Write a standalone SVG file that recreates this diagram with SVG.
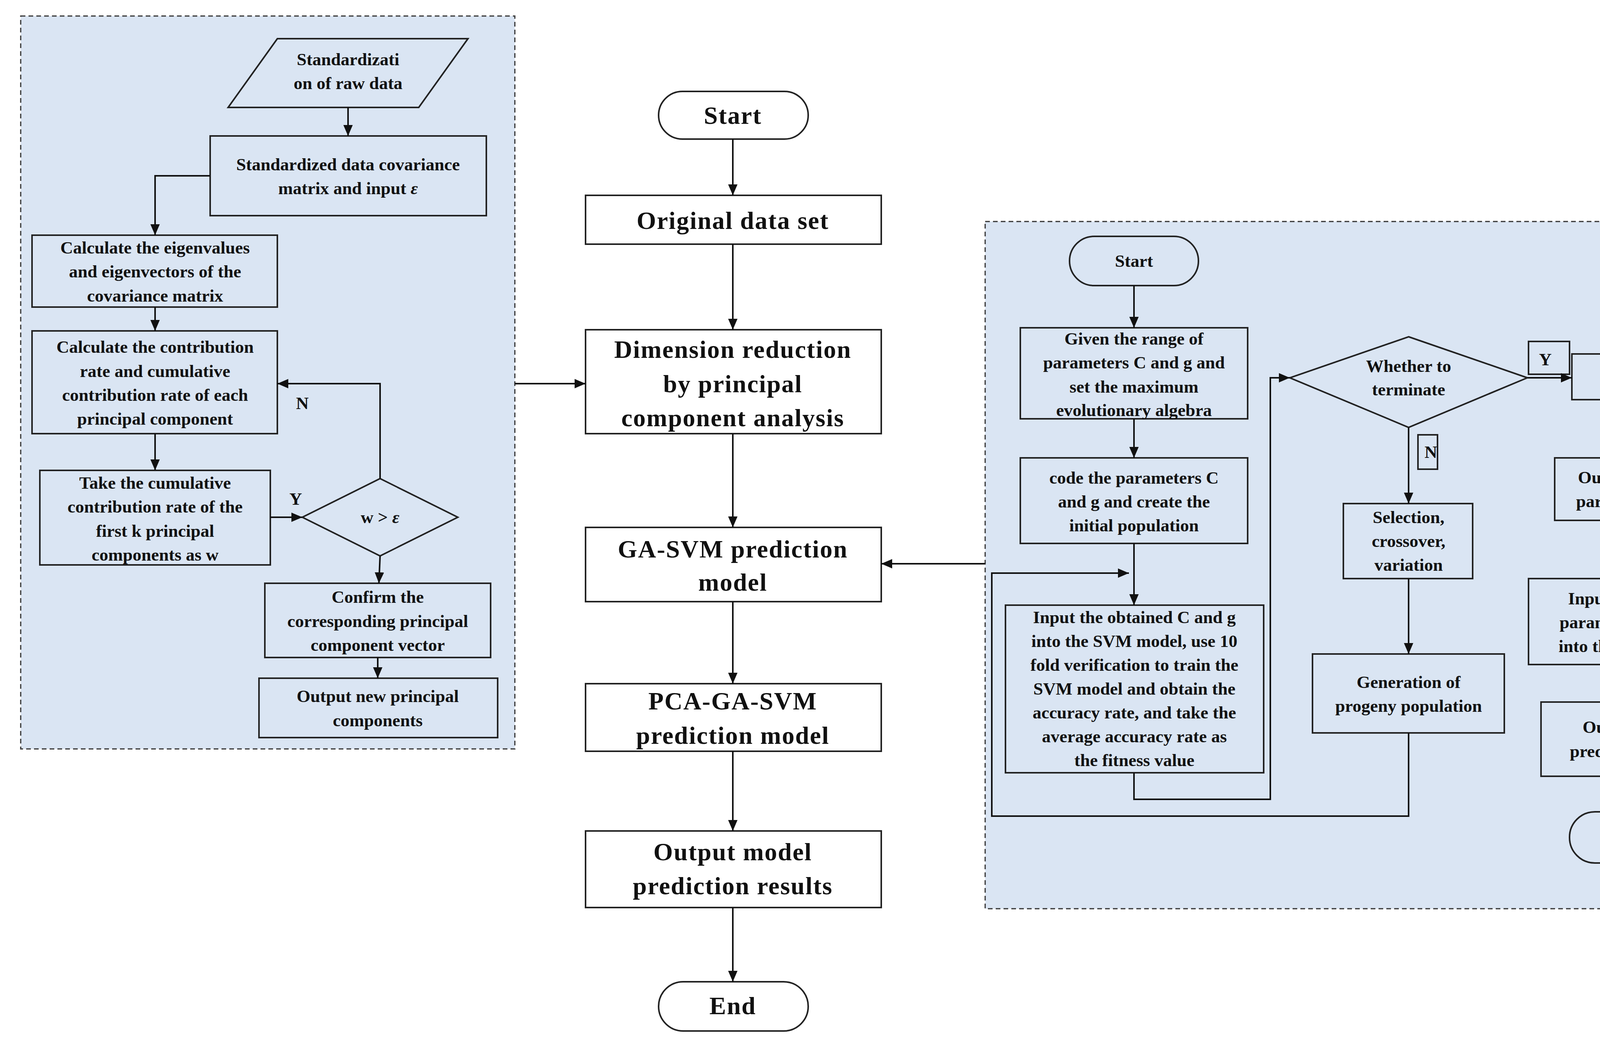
<svg xmlns="http://www.w3.org/2000/svg" width="4582" height="2680" viewBox="0 0 4582 2680">
<style>
.panel{fill:#dae5f3;stroke:#333;stroke-width:3;stroke-dasharray:12 8}
.b{fill:#dae5f3;stroke:#222;stroke-width:4}
.m{fill:#fff;stroke:#222;stroke-width:4}
.c{fill:none;stroke:#111;stroke-width:4}
.t{font-family:"Liberation Serif",serif;font-weight:bold;font-size:45px;fill:#111;text-anchor:middle;dominant-baseline:central}
.tb{font-family:"Liberation Serif",serif;font-weight:bold;font-size:64px;fill:#111;text-anchor:middle;dominant-baseline:central;letter-spacing:2px}
</style>
<defs><marker id="a" markerWidth="8" markerHeight="8" refX="7" refY="4" orient="auto" markerUnits="strokeWidth"><path d="M0,1 L7,4 L0,7 z" fill="#111"/></marker></defs>
<rect x="0" y="0" width="4582" height="2680" fill="#fff"/>
<rect class="panel" x="53" y="41" width="1265" height="1876"/>
<rect class="panel" x="2522" y="567" width="2010" height="1759"/>
<g id="l1"><polygon class="b" points="710,99 1198,99 1072,275 584,275"/><text class="t" x="891" y="152">Standardizati</text><text class="t" x="891" y="213">on of raw data</text></g>
<g id="l2"><rect class="b" x="538" y="348" width="707" height="204"/><text class="t" x="891" y="421">Standardized data covariance</text><text class="t" x="891" y="482">matrix and input <tspan font-style="italic">ε</tspan></text></g>
<g id="l3"><rect class="b" x="82" y="602" width="628" height="184"/><text class="t" x="397" y="634">Calculate the eigenvalues</text><text class="t" x="397" y="695">and eigenvectors of the</text><text class="t" x="397" y="757">covariance matrix</text></g>
<g id="l4"><rect class="b" x="82" y="847" width="628" height="263"/><text class="t" x="397" y="888">Calculate the contribution</text><text class="t" x="397" y="950">rate and cumulative</text><text class="t" x="397" y="1011">contribution rate of each</text><text class="t" x="397" y="1072">principal component</text></g>
<g id="l5"><rect class="b" x="102" y="1204" width="590" height="242"/><text class="t" x="397" y="1236">Take the cumulative</text><text class="t" x="397" y="1297">contribution rate of the</text><text class="t" x="397" y="1359">first k principal</text><text class="t" x="397" y="1420">components as w</text></g>
<g id="l6"><polygon class="b" points="973,1225 1172,1324 973,1423 774,1324"/><text class="t" x="973" y="1324">w &gt; <tspan font-style="italic">ε</tspan></text></g>
<g id="l7"><rect class="b" x="678" y="1493" width="578" height="190"/><text class="t" x="967" y="1528">Confirm the</text><text class="t" x="967" y="1590">corresponding principal</text><text class="t" x="967" y="1651">component vector</text></g>
<g id="l8"><rect class="b" x="663" y="1736" width="611" height="152"/><text class="t" x="967" y="1782">Output new principal</text><text class="t" x="967" y="1844">components</text></g>
<text class="t" x="757" y="1277">Y</text><text class="t" x="774" y="1032">N</text>

<g id="m1"><rect class="m" x="1686" y="234" width="383" height="122" rx="61"/><text class="tb" x="1876" y="295" font-size="58">Start</text></g>
<g id="m2"><rect class="m" x="1499" y="500" width="757" height="125"/><text class="tb" x="1876" y="564">Original data set</text></g>
<g id="m3"><rect class="m" x="1499" y="844" width="757" height="266"/><text class="tb" x="1876" y="894">Dimension reduction</text><text class="tb" x="1876" y="982">by principal</text><text class="tb" x="1876" y="1069">component analysis</text></g>
<g id="m4"><rect class="m" x="1499" y="1350" width="757" height="190"/><text class="tb" x="1876" y="1405">GA-SVM prediction</text><text class="tb" x="1876" y="1490">model</text></g>
<g id="m5"><rect class="m" x="1499" y="1750" width="757" height="173"/><text class="tb" x="1876" y="1794">PCA-GA-SVM</text><text class="tb" x="1876" y="1882">prediction model</text></g>
<g id="m6"><rect class="m" x="1499" y="2127" width="757" height="196"/><text class="tb" x="1876" y="2180">Output model</text><text class="tb" x="1876" y="2267">prediction results</text></g>
<g id="m7"><rect class="m" x="1686" y="2513" width="383" height="126" rx="63"/><text class="tb" x="1876" y="2574">End</text></g>

<g id="r1"><rect class="b" x="2738" y="605" width="330" height="126" rx="63"/><text class="t" x="2903" y="668">Start</text></g>
<g id="r2"><rect class="b" x="2612" y="839" width="582" height="233"/><text class="t" x="2903" y="867">Given the range of</text><text class="t" x="2903" y="928">parameters C and g and</text><text class="t" x="2903" y="990">set the maximum</text><text class="t" x="2903" y="1050">evolutionary algebra</text></g>
<g id="r3"><rect class="b" x="2612" y="1172" width="582" height="219"/><text class="t" x="2903" y="1223">code the parameters C</text><text class="t" x="2903" y="1284">and g and create the</text><text class="t" x="2903" y="1345">initial population</text></g>
<g id="r4"><rect class="b" x="2574" y="1549" width="661" height="429"/><text class="t" x="2904" y="1580">Input the obtained C and g</text><text class="t" x="2904" y="1641">into the SVM model, use 10</text><text class="t" x="2904" y="1702">fold verification to train the</text><text class="t" x="2904" y="1763">SVM model and obtain the</text><text class="t" x="2904" y="1824">accuracy rate, and take the</text><text class="t" x="2904" y="1885">average accuracy rate as</text><text class="t" x="2904" y="1946">the fitness value</text></g>
<g id="r5"><polygon class="b" points="3606,862 3910,967 3606,1094 3302,967"/><text class="t" x="3606" y="937">Whether to</text><text class="t" x="3606" y="997">terminate</text></g>
<g id="r6"><rect class="b" x="3913" y="874" width="105" height="84"/><text class="t" x="3956" y="920">Y</text></g>
<g id="r7"><rect class="b" x="3630" y="1113" width="50" height="88"/><text class="t" x="3663" y="1157">N</text></g>
<g id="r8"><rect class="b" x="4024" y="906" width="324" height="117"/><text class="t" x="4186" y="964">Decode</text></g>
<g id="r9"><rect class="b" x="3439" y="1289" width="331" height="192"/><text class="t" x="3606" y="1324">Selection,</text><text class="t" x="3606" y="1385">crossover,</text><text class="t" x="3606" y="1446">variation</text></g>
<g id="r10"><rect class="b" x="3360" y="1674" width="491" height="202"/><text class="t" x="3606" y="1746">Generation of</text><text class="t" x="3606" y="1807">progeny population</text></g>
<g id="r11"><rect class="b" x="3980" y="1172" width="418" height="160"/><text class="t" x="4189" y="1222">Output optimal</text><text class="t" x="4189" y="1283">parameters C, g</text></g>
<g id="r12"><rect class="b" x="3913" y="1481" width="540" height="220"/><text class="t" x="4183" y="1532">Input the optimal</text><text class="t" x="4183" y="1593">parameters C and g</text><text class="t" x="4183" y="1654">into the SVM model</text></g>
<g id="r13"><rect class="b" x="3945" y="1797" width="482" height="190"/><text class="t" x="4186" y="1861">Output model</text><text class="t" x="4186" y="1923">prediction results</text></g>
<g id="r14"><rect class="b" x="4018" y="2078" width="342" height="131" rx="65"/><text class="t" x="4189" y="2143">End</text></g>

<g id="connectors">
<path class="c" marker-end="url(#a)" d="M891,275 V348"/>
<path class="c" marker-end="url(#a)" d="M538,450 H397 V602"/>
<path class="c" marker-end="url(#a)" d="M397,786 V847"/>
<path class="c" marker-end="url(#a)" d="M397,1110 V1204"/>
<path class="c" marker-end="url(#a)" d="M692,1324 H774"/>
<path class="c" marker-end="url(#a)" d="M973,1225 V982 H710"/>
<path class="c" marker-end="url(#a)" d="M973,1423 L970,1493"/>
<path class="c" marker-end="url(#a)" d="M967,1683 V1736"/>
<path class="c" marker-end="url(#a)" d="M1876,356 V500"/>
<path class="c" marker-end="url(#a)" d="M1876,625 V844"/>
<path class="c" marker-end="url(#a)" d="M1876,1110 V1350"/>
<path class="c" marker-end="url(#a)" d="M1876,1540 V1750"/>
<path class="c" marker-end="url(#a)" d="M1876,1923 V2127"/>
<path class="c" marker-end="url(#a)" d="M1876,2323 V2513"/>
<path class="c" stroke-width="7" marker-end="url(#a)" d="M1318,982 H1499"/>
<path class="c" stroke-width="7" marker-end="url(#a)" d="M2522,1443 H2256"/>
<path class="c" marker-end="url(#a)" d="M2903,731 V839"/>
<path class="c" marker-end="url(#a)" d="M2903,1072 V1172"/>
<path class="c" marker-end="url(#a)" d="M2903,1391 V1549"/>
<path class="c" marker-end="url(#a)" d="M3606,1876 V2089 H2539 V1467 H2890"/>
<path class="c" marker-end="url(#a)" d="M2903,1978 V2046 H3252 V967 H3302"/>
<path class="c" marker-end="url(#a)" d="M3910,967 H4024"/>
<path class="c" marker-end="url(#a)" d="M3606,1094 V1289"/>
<path class="c" marker-end="url(#a)" d="M3606,1481 V1674"/>
<path class="c" marker-end="url(#a)" d="M4186,1023 L4189,1172"/>
<path class="c" marker-end="url(#a)" d="M4189,1332 L4183,1481"/>
<path class="c" marker-end="url(#a)" d="M4183,1701 V1797"/>
<path class="c" marker-end="url(#a)" d="M4186,1987 L4189,2078"/>
</g>
</svg>
